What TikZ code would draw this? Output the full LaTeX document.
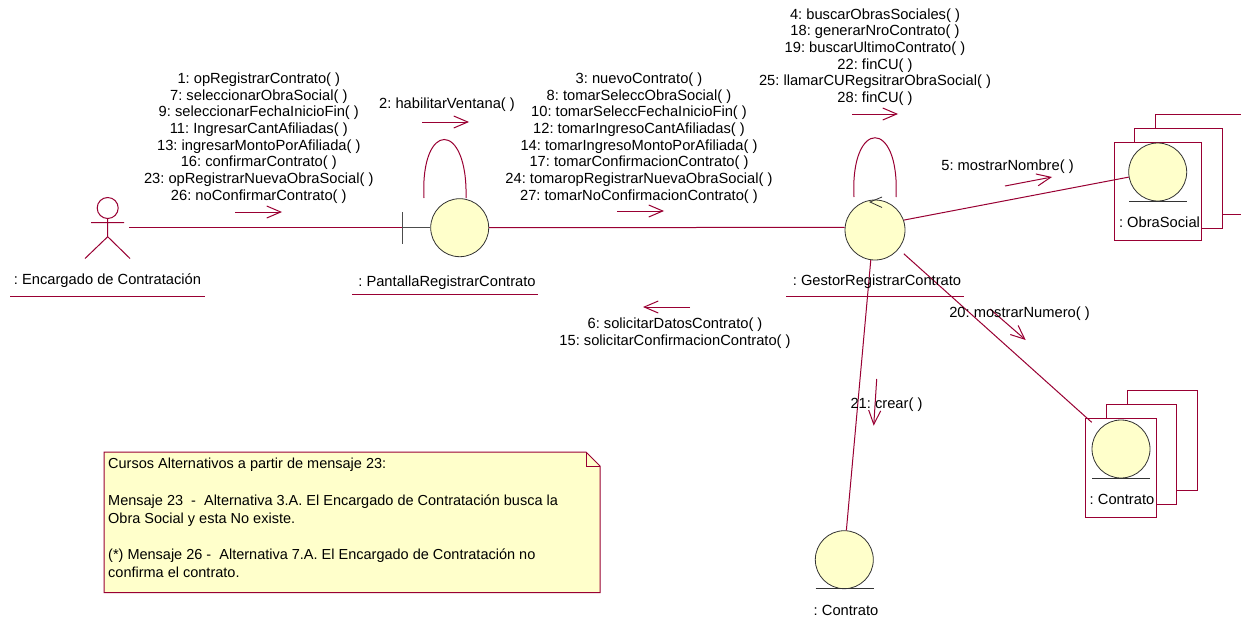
\documentclass[tikz,border=0pt]{standalone}
\usepackage{fontspec}
\setmainfont{Liberation Sans}
\usetikzlibrary{arrows.meta}
\definecolor{umlline}{HTML}{990033}
\definecolor{umlfill}{HTML}{FFFFCB}
\frenchspacing
\tikzset{
  x=1pt,y=-1pt,
  link/.style={draw=umlline,line width=1pt},
  msg/.style={draw=umlline,line width=1pt,-{Straight Barb[length=14pt,width=12pt,line width=1pt]}},
  lifeobj/.style={circle,draw=black!80,line width=0.8pt,fill=umlfill,minimum size=58pt,inner sep=0pt},
  pagebox/.style={rectangle,draw=umlline,line width=1pt,fill=white,anchor=north west,inner sep=0pt},
  lbl/.style={inner sep=0pt,font=\fontsize{14.7}{16.65}\selectfont,align=center,text=black},
  ground/.style={draw=black!80,line width=1pt}
}
\begin{document}
\begin{tikzpicture}
\useasboundingbox (0,0) rectangle (1241,621);
\fill[white] (0,0) rectangle (1241,621);
% stacked pages
\node[pagebox,minimum width=87pt,minimum height=100pt] (obraC) at (1155,113.7) {};
\node[pagebox,minimum width=87.5pt,minimum height=100pt] (obraB) at (1134,127.7) {};
\node[pagebox,minimum width=87.2pt,minimum height=98.3pt] (obraA) at (1113.5,141.7) {};
\node[pagebox,minimum width=70.3pt,minimum height=100pt] (contC) at (1126.7,390.3) {};
\node[pagebox,minimum width=70.3pt,minimum height=100pt] (contB) at (1106,404.3) {};
\node[pagebox,minimum width=70.4pt,minimum height=98.7pt] (contA) at (1085.3,418) {};
% objects
\node[lifeobj] (pantalla) at (459.7,227.7) {};
\node[lifeobj,minimum size=60pt] (gestor) at (875,230) {};
\node[lifeobj] (obra) at (1157.7,172) {};
\node[lifeobj] (cont) at (1121,449) {};
\node[lifeobj] (contb) at (844.3,559.7) {};
\draw[ground] (1129,201) -- (1187,201);
\draw[ground] (1092,478) -- (1150,478);
\draw[ground] (815.5,588.7) -- (873.7,588.7);
% actor
\node[circle,draw=umlline,line width=1pt,minimum size=21pt,inner sep=0pt] (head) at (107.7,208) {};
\coordinate (hip) at (107.7,236.7);
\coordinate (armL) at (91,222.7);
\coordinate (armR) at (124,222.7);
\coordinate (legL) at (85,258.5);
\coordinate (legR) at (130,258.5);
\draw[link] (head.south) -- (hip) (armL) -- (armR) (legL) -- (hip) -- (legR);
% boundary
\coordinate (barT) at (402,212);
\coordinate (barB) at (402,244);
\coordinate (barM) at (402,227.7);
\coordinate (actorEnd) at (129,227.7);
\draw[draw=black!70,line width=1pt] (barT) -- (barB) (barM) -- (pantalla.west);
\draw[link] (actorEnd) -- (barM);
% links
\draw[link] (pantalla.east) -- (gestor.175.6);
\draw[link] (gestor.19) -- (obra.190.5);
\coordinate (contEnd) at (1091.7,422.3);
\draw[link,shorten <=7pt] (gestor.-39.6) -- (contEnd);
\draw[link] (gestor.-98.7) -- (contb.86.6);
% self loops
\coordinate (pl1) at (424,198);
\coordinate (pl2) at (466,198);
\draw[link] (pl1) .. controls (420,120) and (468,120) .. (pl2);
\coordinate (gl1) at (854,197);
\coordinate (gl2) at (896,197);
\draw[link] (gl1) .. controls (850,118) and (900,118) .. (gl2);
% control marker
\coordinate (ctlA) at (882,197);
\coordinate (ctlB) at (870,202);
\coordinate (ctlC) at (882,207.5);
\draw[draw=black!80,line width=0.8pt] (ctlA) -- (ctlB) -- (ctlC);
% message arrows
\coordinate (a1s) at (235,212); \coordinate (a1e) at (282,212);
\draw[msg] (a1s) -- (a1e);
\coordinate (a2s) at (422,122); \coordinate (a2e) at (469,122);
\draw[msg] (a2s) -- (a2e);
\coordinate (a3s) at (617,211); \coordinate (a3e) at (664,211);
\draw[msg] (a3s) -- (a3e);
\coordinate (a4s) at (852,114); \coordinate (a4e) at (898,114);
\draw[msg] (a4s) -- (a4e);
\coordinate (a5s) at (1005,186); \coordinate (a5e) at (1052,177);
\draw[msg] (a5s) -- (a5e);
\coordinate (a6s) at (690,307); \coordinate (a6e) at (643,307);
\draw[msg] (a6s) -- (a6e);
\coordinate (a20s) at (990,309); \coordinate (a20e) at (1025.7,340);
\draw[msg] (a20s) -- (a20e);
\coordinate (a21s) at (876.7,379); \coordinate (a21e) at (873.7,425.7);
\draw[msg] (a21s) -- (a21e);
% message labels
\node[lbl] (m1) at (258.8,138) {1: opRegistrarContrato( )\\7: seleccionarObraSocial( )\\9: seleccionarFechaInicioFin( )\\11: IngresarCantAfiliadas( )\\13: ingresarMontoPorAfiliada( )\\16: confirmarContrato( )\\23: opRegistrarNuevaObraSocial( )\\26: noConfirmarContrato( )};
\node[lbl] (m2) at (447,104.5) {2: habilitarVentana( )};
\node[lbl] (m3) at (639,138) {3: nuevoContrato( )\\8: tomarSeleccObraSocial( )\\10: tomarSeleccFechaInicioFin( )\\12: tomarIngresoCantAfiliadas( )\\14: tomarIngresoMontoPorAfiliada( )\\17: tomarConfirmacionContrato( )\\24: tomaropRegistrarNuevaObraSocial( )\\27: tomarNoConfirmacionContrato( )};
\node[lbl] (m4) at (875,57) {4: buscarObrasSociales( )\\18: generarNroContrato( )\\19: buscarUltimoContrato( )\\22: finCU( )\\25: llamarCURegsitrarObraSocial( )\\28: finCU( )};
\node[lbl] (m5) at (1007.5,166.5) {5: mostrarNombre( )};
\node[lbl] (m6) at (675,333) {6: solicitarDatosContrato( )\\15: solicitarConfirmacionContrato( )};
\node[lbl] (m20) at (1019.5,313.5) {20: mostrarNumero( )};
\node[lbl] (m21) at (886.5,404.5) {21: crear( )};
% object labels
\node[lbl] (tActor) at (107.5,280.5) {: Encargado de Contratación};
\node[lbl] (tPant) at (447,282.5) {: PantallaRegistrarContrato};
\node[lbl] (tGest) at (877,281.5) {: GestorRegistrarContrato};
\node[lbl] (tObra) at (1159.5,222) {: ObraSocial};
\node[lbl] (tCont) at (1122,499) {: Contrato};
\node[lbl] (tContb) at (846,610) {: Contrato};
\coordinate (u1a) at (10,296.3); \coordinate (u1b) at (205,296.3);
\draw[link] (u1a) -- (u1b);
\coordinate (u2a) at (352,294.7); \coordinate (u2b) at (538,294.7);
\draw[link] (u2a) -- (u2b);
\coordinate (u3a) at (786,296.7); \coordinate (u3b) at (964,296.7);
\draw[link] (u3a) -- (u3b);
% note
\draw[draw=umlline,line width=1pt,fill=umlfill] (104,452) -- (586,452) -- (600,466) -- (600,592.5) -- (104,592.5) -- cycle;
\draw[draw=umlline,line width=1pt] (586,452) -- (586,466) -- (600,466);
\node[inner sep=0pt,anchor=north west,align=left,font=\fontsize{14.5}{18.2}\selectfont] (noteText) at (108,458) {Cursos Alternativos a partir de mensaje 23:\\\\Mensaje 23\ \ -\ \ Alternativa 3.A. El Encargado de Contratación busca la\\Obra Social y esta No existe.\\\\(*) Mensaje 26 -\ \ Alternativa 7.A. El Encargado de Contratación no\\confirma el contrato.};
\end{tikzpicture}
\end{document}
